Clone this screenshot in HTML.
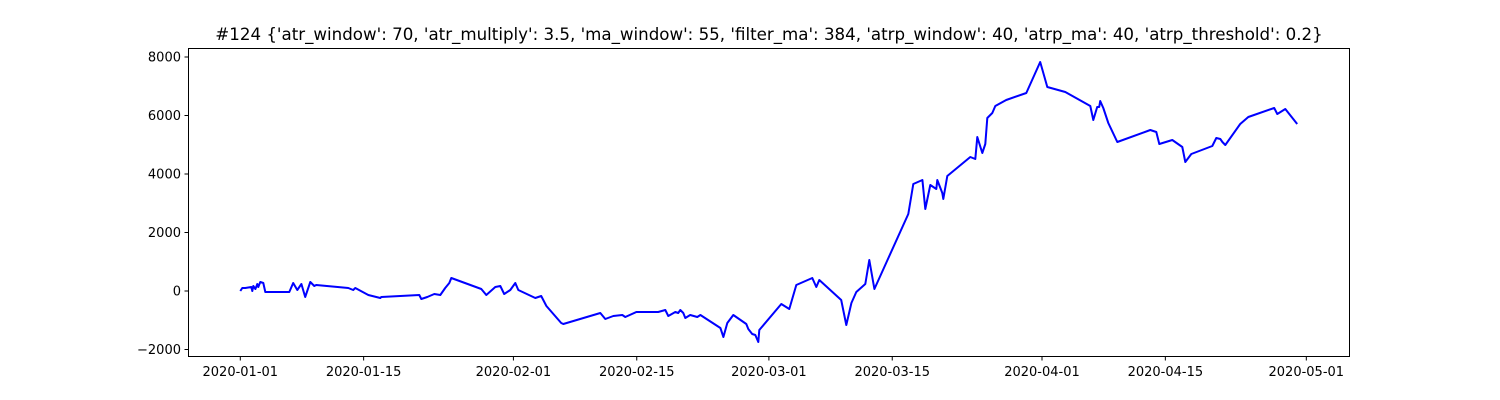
<!DOCTYPE html>
<html><head><meta charset="utf-8"><style>
html,body{margin:0;padding:0;background:#fff;}
svg{display:block;font-family:"DejaVu Sans","Liberation Sans",sans-serif;}
</style></head><body>
<svg id="chart" width="1500" height="400" xmlns="http://www.w3.org/2000/svg">
<text x="769" y="40" text-anchor="middle" font-size="16.67">#124 {'atr_window': 70, 'atr_multiply': 3.5, 'ma_window': 55, 'filter_ma': 384, 'atrp_window': 40, 'atrp_ma': 40, 'atrp_threshold': 0.2}</text>
<rect x="188.5" y="48.5" width="1161" height="308" fill="none" stroke="#000" stroke-width="1"/>
<g id="yaxis"></g>
<g id="xaxis"></g>
<path id="line" fill="none" stroke="#0000ff" stroke-width="2" stroke-linejoin="round"/>
</svg>
<script>
const days=[0,0.23,0.57,1.25,1.36,1.48,1.71,1.93,2.04,2.27,2.61,2.84,5.56,6.01,6.47,6.93,7.37,7.94,8.4,8.62,12.26,12.82,13.05,14.53,15.89,16.01,20.32,20.54,21.23,22.02,22.7,23.26,23.72,23.95,27.35,27.92,28.94,29.51,29.96,30.65,31.21,31.55,33.49,34.16,34.74,36.43,36.66,40.86,41.43,42.34,43.36,43.7,44.95,47.44,48.24,48.58,49.38,49.71,49.94,50.28,50.51,51.07,51.87,52.22,54.49,54.83,55.28,55.96,57.44,57.66,58.11,58.46,58.8,58.91,61.41,62.32,63.11,64.93,65.38,65.72,68.21,68.78,69.36,69.92,70.94,71.4,71.97,75.82,76.39,77.42,77.75,78.32,79.0,79.11,79.68,79.8,80.25,82.86,83.43,83.66,84.22,84.56,84.79,85.36,85.7,86.94,89.22,90.8,91.6,93.64,96.48,96.82,97.27,97.49,97.61,97.96,98.53,99.55,103.29,103.97,104.31,105.79,106.92,107.26,107.94,110.33,110.78,111.24,111.47,111.81,113.5,114.42,117.36,117.71,118.61,119.97];
const values=[0,103,103,137,0,171,68,239,137,308,274,-34,-34,274,34,239,-205,308,171,205,103,34,103,-137,-239,-205,-137,-274,-205,-103,-137,103,274,444,68,-137,137,171,-103,34,274,34,-239,-171,-513,-1094,-1128,-752,-957,-855,-821,-889,-718,-718,-650,-855,-718,-752,-650,-752,-923,-821,-889,-821,-1265,-1573,-1094,-821,-1128,-1299,-1470,-1504,-1744,-1333,-444,-615,205,444,137,376,-308,-1162,-410,-34,239,1060,68,2633,3658,3795,2804,3624,3487,3795,3351,3145,3932,4581,4513,5265,4718,5026,5915,6086,6325,6530,6770,7830,6975,6804,6325,5846,6291,6291,6496,6257,5744,5094,5505,5436,5026,5163,4923,4411,4684,4958,5231,5197,5094,4992,5710,5949,6257,6052,6223,5710];
const yTicks=[-2000,0,2000,4000,6000,8000];
const yTickLabels=["\u22122000","0","2000","4000","6000","8000"];
const xTicks=[0,14,31,45,60,74,91,105,121];
const xTickLabels=["2020-01-01","2020-01-15","2020-02-01","2020-02-15","2020-03-01","2020-03-15","2020-04-01","2020-04-15","2020-05-01"];
const X=d=>240.3+d*8.81;
const Y=v=>291-v*58.5/2000;
const NS="http://www.w3.org/2000/svg";
const ya=document.getElementById('yaxis'),xa=document.getElementById('xaxis');
yTicks.forEach((t,i)=>{
 const l=document.createElementNS(NS,'line');
 
 
 l.setAttribute('x1',184.5);l.setAttribute('x2',188.5);l.setAttribute('y1',Y(t));l.setAttribute('y2',Y(t));l.setAttribute('stroke','#000');
 ya.appendChild(l);
 const tx=document.createElementNS(NS,'text');
 
 
 tx.setAttribute('x',181);tx.setAttribute('y',Y(t)+4.5);tx.setAttribute('text-anchor','end');tx.setAttribute('font-size','13');
 tx.textContent=yTickLabels[i];ya.appendChild(tx);
});
xTicks.forEach((t,i)=>{
 const l=document.createElementNS(NS,'line');
 
 
 l.setAttribute('x1',X(t));l.setAttribute('x2',X(t));l.setAttribute('y1',356.5);l.setAttribute('y2',360.5);l.setAttribute('stroke','#000');
 xa.appendChild(l);
 const tx=document.createElementNS(NS,'text');
 
 
 tx.setAttribute('x',X(t));tx.setAttribute('y',376);tx.setAttribute('text-anchor','middle');tx.setAttribute('font-size','13');
 tx.textContent=xTickLabels[i];xa.appendChild(tx);
});
document.getElementById('line').setAttribute('d',days.map((d,i)=>(i?'L':'M')+X(d).toFixed(1)+','+Y(values[i]).toFixed(1)).join(''));
</script>
</body></html>
